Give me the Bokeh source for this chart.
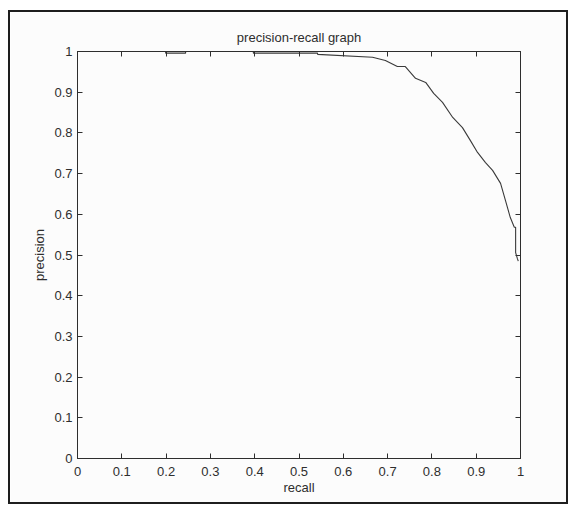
from bokeh.plotting import figure
from bokeh.models import Range1d, LinearAxis, FixedTicker
from bokeh.embed import file_html
from bokeh.resources import INLINE

# ---- data ----
recall = [0.0, 0.199, 0.199, 0.244, 0.244, 0.397, 0.397, 0.542, 0.542, 0.666,
          0.695, 0.722, 0.740, 0.763, 0.786, 0.804, 0.824, 0.847, 0.869, 0.887,
          0.903, 0.921, 0.937, 0.955, 0.966, 0.977, 0.986, 0.989, 0.989, 0.993,
          0.995]
precision = [1.0, 1.0, 0.996, 0.996, 1.0, 1.0, 0.996, 0.996, 0.993, 0.986,
             0.978, 0.963, 0.963, 0.934, 0.924, 0.897, 0.875, 0.838, 0.813, 0.781,
             0.752, 0.727, 0.708, 0.676, 0.634, 0.592, 0.568, 0.568, 0.506, 0.491,
             0.485]
tick_values = [0.0, 0.1, 0.2, 0.3, 0.4, 0.5, 0.6, 0.7, 0.8, 0.9, 1.0]
tick_labels = ["0", "0.1", "0.2", "0.3", "0.4", "0.5", "0.6", "0.7", "0.8", "0.9", "1"]
title_text = "precision-recall graph"
x_label = "recall"
y_label = "precision"

FONT = "Liberation Sans"
INK = "#2e2e2e"
BG = "#fcfcfc"
FS = "13px"

p = figure(width=560, height=494, output_backend="svg", toolbar_location=None,
           x_range=Range1d(0, 1), y_range=Range1d(0, 1),
           min_border_left=67, min_border_right=50,
           min_border_top=39, min_border_bottom=48,
           background_fill_color=BG, border_fill_color=BG)
p.styles = {"border": "2px solid #1e1e1e", "margin-top": "10px", "margin-left": "8px"}

p.title.text = title_text
p.title.align = "center"
p.title.text_font = FONT
p.title.text_font_size = FS
p.title.text_font_style = "normal"
p.title.text_color = INK
p.title.standoff = 14

p.xgrid.visible = False
p.ygrid.visible = False
p.outline_line_color = INK
p.outline_line_width = 1

overrides = dict(zip(tick_values, tick_labels))
blank = {t: "" for t in tick_values}

top = LinearAxis()
right = LinearAxis()
p.add_layout(top, "above")
p.add_layout(right, "right")

for ax in p.xaxis + p.yaxis:
    ax.ticker = FixedTicker(ticks=tick_values)
    ax.major_tick_in = 5
    ax.major_tick_out = 0
    ax.minor_tick_in = 0
    ax.minor_tick_out = 0
    ax.axis_line_color = INK
    ax.major_tick_line_color = INK
    ax.major_label_text_font = FONT
    ax.major_label_text_font_size = FS
    ax.major_label_text_color = INK
    ax.major_label_overrides = overrides
    ax.axis_label_text_font = FONT
    ax.axis_label_text_font_size = FS
    ax.axis_label_text_font_style = "normal"
    ax.axis_label_text_color = INK

for ax in (top, right):
    ax.major_label_overrides = blank
    ax.major_label_standoff = 0

xb = p.below[0]
yl = p.left[0]
xb.axis_label = x_label
xb.major_label_standoff = 8
xb.axis_label_standoff = 1
yl.axis_label = y_label
yl.major_label_standoff = 5
yl.axis_label_standoff = 4

p.line(recall, precision, line_color="#3a3a3a", line_width=1.1)

open("out.html", "w").write(file_html(p, INLINE))
